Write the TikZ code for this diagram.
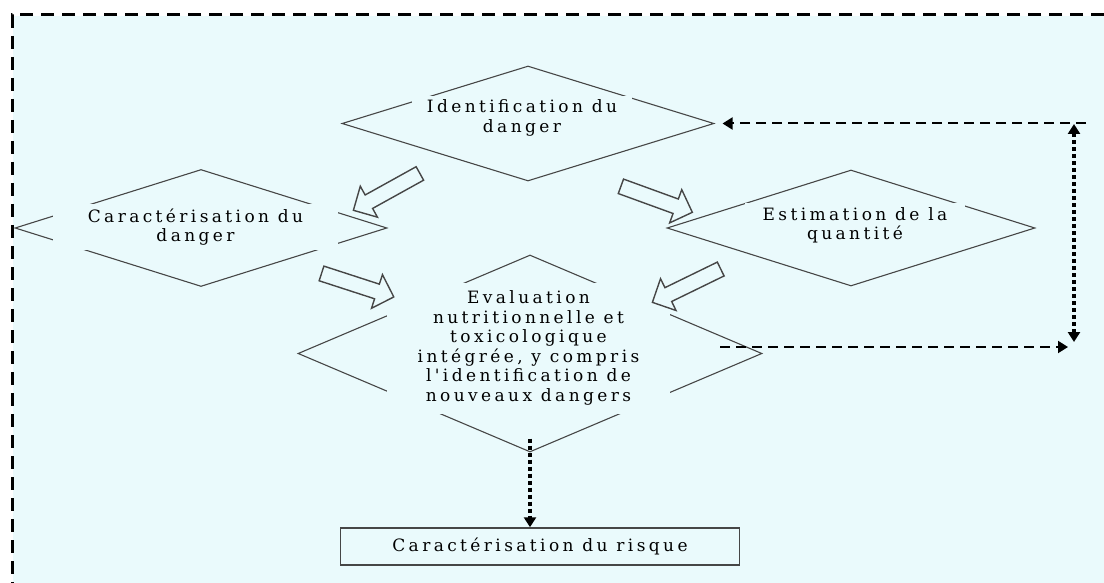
\documentclass[tikz,border=0pt]{standalone}
\usepackage{fontspec}
\setmainfont{DejaVu Serif}
\newfontfamily\spacedfont[LetterSpace=20]{DejaVu Serif}
\usetikzlibrary{shapes.geometric,shapes.arrows,arrows.meta}
\definecolor{bgcyan}{RGB}{234,250,252}
\definecolor{edge}{RGB}{70,70,70}

\begin{document}
\begin{tikzpicture}[x=1pt,y=-1pt,
    font=\spacedfont\fontsize{17}{19.5}\selectfont,
    dia/.style={diamond,draw=edge,line width=1.1pt,inner sep=0pt},
    lbl/.style={fill=bgcyan,inner sep=0pt,align=center,text=black},
    blk/.style={single arrow,draw=edge,line width=1.4pt,single arrow head extend=10pt,
      single arrow head indent=0pt,inner xsep=0pt,inner ysep=7pt,minimum height=76pt},
    dsh/.style={line width=2pt,dash pattern=on 10pt off 6pt},
    dts/.style={line width=4pt,dash pattern=on 4pt off 3pt},
    tip/.style={-{Triangle[length=10pt,width=12pt]}}]
  \useasboundingbox (0,0) rectangle (1104,583);
  \fill[bgcyan] (13,16) rectangle (1104,583);
  \draw[line width=3pt,dash pattern=on 13pt off 8pt] (1104,15) -- (12,15) -- (12,583);
  % diamonds
  \node[dia,minimum width=372pt,minimum height=115pt,
    label={[lbl,minimum width=220pt,minimum height=44pt,xshift=-6pt,yshift=5.5pt]center:Identification du\\danger}] (ident) at (528,123.5) {};
  \node[dia,minimum width=372pt,minimum height=117pt,
    label={[lbl,minimum width=285pt,minimum height=46pt,xshift=-5.5pt,yshift=1pt]center:Caractérisation du\\danger}] (carac) at (201,228) {};
  \node[dia,minimum width=368pt,minimum height=116pt,
    label={[lbl,minimum width=220pt,minimum height=45pt,xshift=4pt,yshift=2.5pt]center:Estimation de la\\quantité}] (estim) at (851,228) {};
  \node[dia,minimum width=464pt,minimum height=197pt,
    label={[lbl,minimum width=283pt,minimum height=131pt,xshift=-1.5pt,yshift=5.5pt]center:Evaluation\\nutritionnelle et\\toxicologique\\intégrée, y compris\\l'identification de\\nouveaux dangers}] (eval) at (530,353.5) {};
  \node[draw=edge,line width=1.5pt,minimum width=399pt,minimum height=37pt,inner sep=0pt,text=black] (risk) at (540,546.5) {Caractérisation du risque};
  % block arrows
  \node[blk,rotate=209] (ic) at (390,190) {};
  \node[blk,rotate=-20] (ie) at (653,198) {};
  \node[blk,rotate=-18] (ce) at (354,284) {};
  \node[blk,rotate=206] (ee) at (690,284) {};
  % dashed links
  \coordinate (topr) at (1086,123.5);
  \coordinate (vtop) at (1074,124);
  \coordinate (vbot) at (1074,342);
  \coordinate (botl) at (720,347);
  \coordinate (botr) at (1068,347);
  \draw[dsh,tip,shorten >=8pt](topr)--(ident.east);
  \draw[dts,{Triangle[length=10pt,width=12pt]}-{Triangle[length=10pt,width=12pt]}](vtop)--(vbot);
  \draw[dsh,tip](botl)--(botr);
  \draw[dts,tip]([yshift=14pt]eval.south)--(eval.south |- risk.north);
\end{tikzpicture}
\end{document}
